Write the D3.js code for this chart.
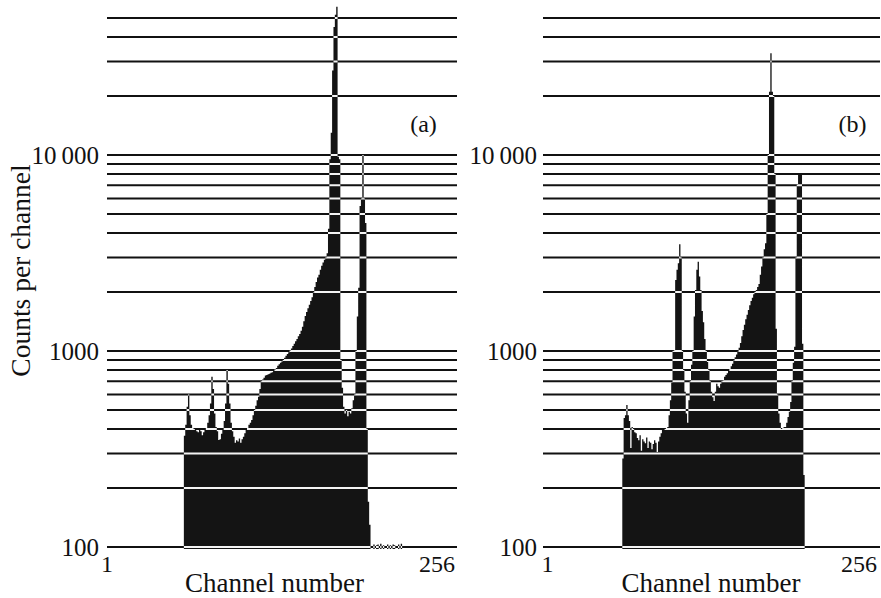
<!DOCTYPE html>
<html><head><meta charset="utf-8">
<script src="https://cdn.jsdelivr.net/npm/d3@7"></script>
<style>
html,body{margin:0;padding:0;background:#fff;}
svg{display:block;}
svg text{font-family:"Liberation Serif","DejaVu Serif","Noto Serif",serif;fill:#111;}
</style>
</head><body>
<svg id="chart" width="881" height="598"></svg>
<script>
// ---------- data ----------
const gridValues = [100,200,300,400,500,600,700,800,900,
                    1000,2000,3000,4000,5000,6000,7000,8000,9000,
                    10000,20000,30000,40000,50000];
const yTickValues = [100, 1000, 10000];
const yTickLabels = ["100", "1000", "10\u2009000"];
const xTickValues = [1, 256];
const xTickLabels = ["1", "256"];
const panelLabels = ["(a)", "(b)"];
const xAxisTitle = "Channel number";
const yAxisTitle = "Counts per channel";

// panel (a): counts per channel, starting at channel 57
const startChannelA = 57;
const countsA = [
 370,420,520,600,470,420,405,400,395,390,      // 57-66
 385,395,390,372,385,395,405,430,470,540,      // 67-76
 740,640,480,410,390,351,355,378,395,440,      // 77-86
 540,800,680,540,430,390,365,340,350,345,      // 87-96
 358,340,355,365,380,395,405,420,430,445,      // 97-106
 470,500,525,560,585,640,700,715,730,750,      // 107-116
 755,760,765,775,780,790,805,820,840,855,      // 117-126
 870,885,900,925,945,965,985,1005,1030,1060,   // 127-136
 1090,1120,1150,1190,1220,1270,1330,1420,1510,1580, // 137-146
 1650,1720,1800,1880,1990,2120,2250,2370,2450,2600, // 147-156
 2720,2830,2920,3000,3150,4200,9500,13000,27000,45000, // 157-166
 52000,57000,9800,9500,900,650,520,480,500,465, // 167-176
 490,480,510,560,600,1000,1500,2100,5500,6000, // 177-186
 10000,6000,4500,400,170,130,0,0,103,0,        // 187-196
 102,103,0,104,0,102,0,0,103,0,                // 197-206
 102,0,103,102,0,0,103,0,104                   // 207-215
];

// panel (b): counts per channel, starting at channel 61
const startChannelB = 61;
const countsB = [
 283,455,470,530,470,440,320,410,400,385,      // 61-70
 380,360,350,372,310,355,345,338,362,320,      // 71-80
 345,340,315,335,350,340,305,345,365,380,      // 81-90
 395,395,400,405,410,470,560,690,1000,1010,    // 91-100
 2300,2600,2800,3500,3000,1000,800,620,480,430, // 101-110
 560,700,850,1000,1500,2050,2600,2850,2400,2050, // 111-120
 1600,1400,1150,1000,880,800,700,620,580,555,  // 121-130
 620,680,660,650,680,700,710,740,755,770,      // 131-140
 790,810,835,860,895,930,960,990,1040,1100,    // 141-150
 1190,1280,1360,1450,1530,1620,1710,1800,1870,1950, // 151-160
 2000,2050,2120,2200,2450,2700,3000,3300,3550,5000, // 161-170
 10000,21000,33000,21000,20000,8000,1300,600,480,430, // 171-180
 400,405,410,410,430,460,490,550,700,870,      // 181-190
 1050,3000,7100,7900,7900,7900,1090,233        // 191-198
];

// ---------- layout ----------
const W = 881, H = 598;
const svg = d3.select("#chart");
svg.append("rect").attr("width", W).attr("height", H).attr("fill", "#fff");

const y = d3.scaleLog().domain([100, 10000]).range([547, 155]);
const barBase = y(100) + 2;

const panels = [
  { key: "a", start: startChannelA, counts: countsA,
    x: d3.scaleLinear().domain([1, 256]).range([107, 457]),
    label: panelLabels[0], labelX: 423.5, yLabelRight: 99,
    tickShift: [0, -2], titleX: 274.5 },
  { key: "b", start: startChannelB, counts: countsB,
    x: d3.scaleLinear().domain([1, 256]).range([543, 880]),
    label: panelLabels[1], labelX: 852.5, yLabelRight: 537,
    tickShift: [4.5, -3], titleX: 711 }
];

const defs = svg.append("defs");

panels.forEach(p => {
  const [x0, x1] = p.x.range();
  const pts = [];
  p.counts.forEach((v, i) => {
    const ch = p.start + i;
    pts.push({ c: ch, v: v }, { c: ch + 1, v: v });
  });
  const area = d3.area()
    .defined(d => d.v > 0)
    .x(d => p.x(d.c))
    .y0(barBase)
    .y1(d => y(Math.max(d.v, 100)));
  const areaD = area(pts);

  defs.append("clipPath").attr("id", "clip-" + p.key)
    .append("path").attr("d", areaD);

  const g = svg.append("g");

  // black gridlines
  g.selectAll("line.grid").data(gridValues).join("line")
    .attr("class", "grid")
    .attr("x1", x0).attr("x2", x1)
    .attr("y1", d => y(d)).attr("y2", d => y(d))
    .attr("stroke", "#111").attr("stroke-width", 2);

  // histogram
  g.append("path").attr("d", areaD).attr("fill", "#141414");

  // white (reversed) gridlines over the bars
  g.append("g").attr("clip-path", "url(#clip-" + p.key + ")")
    .selectAll("line").data(gridValues).join("line")
    .attr("x1", x0).attr("x2", x1)
    .attr("y1", d => y(d)).attr("y2", d => y(d))
    .attr("stroke", "#f4f4f4").attr("stroke-width", 2);

  // y tick labels
  g.selectAll("text.ylab").data(yTickValues).join("text")
    .attr("class", "ylab")
    .attr("x", p.yLabelRight).attr("y", d => y(d)).attr("dy", "0.35em")
    .attr("text-anchor", "end")
    .attr("font-size", 25)
    .text((d, i) => yTickLabels[i]);

  // x tick labels
  g.selectAll("text.xlab").data(xTickValues).join("text")
    .attr("class", "xlab")
    .attr("x", (d, i) => p.x(d) + p.tickShift[i])
    .attr("y", 571.5)
    .attr("text-anchor", (d, i) => i === 0 ? "middle" : "end")
    .attr("font-size", 24)
    .text((d, i) => xTickLabels[i]);

  // x axis title
  g.append("text").attr("x", p.titleX).attr("y", 591.5)
    .attr("text-anchor", "middle")
    .attr("font-size", 27)
    .text(xAxisTitle);

  // panel label
  g.append("text").attr("x", p.labelX).attr("y", 132)
    .attr("text-anchor", "middle")
    .attr("font-size", 24)
    .text(p.label);
});

// y axis title
svg.append("text")
  .attr("transform", "translate(30,270.5) rotate(-90)")
  .attr("text-anchor", "middle")
  .attr("font-size", 27.5)
  .text(yAxisTitle);
</script>
</body></html>
